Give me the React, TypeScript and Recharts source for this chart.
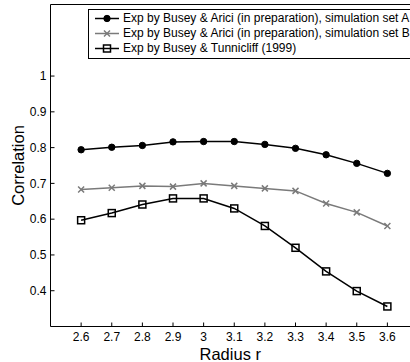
import { Legend, Line, LineChart, XAxis, YAxis } from 'recharts';

// radius values and correlations
const radius = [2.6, 2.7, 2.8, 2.9, 3.0, 3.1, 3.2, 3.3, 3.4, 3.5, 3.6];
const setA = [0.794, 0.801, 0.806, 0.816, 0.817, 0.817, 0.809, 0.798, 0.78, 0.756, 0.728];
const setB = [0.683, 0.688, 0.693, 0.691, 0.7, 0.693, 0.686, 0.679, 0.644, 0.619, 0.581];
const tunnicliff = [0.597, 0.617, 0.641, 0.658, 0.658, 0.63, 0.581, 0.52, 0.454, 0.399, 0.356];

const xTicks = [2.6, 2.7, 2.8, 2.9, 3, 3.1, 3.2, 3.3, 3.4, 3.5, 3.6];
const yTicks = [0.4, 0.5, 0.6, 0.7, 0.8, 0.9, 1];

const labelA = 'Exp by Busey & Arici (in preparation), simulation set A';
const labelB = 'Exp by Busey & Arici (in preparation), simulation set B';
const labelC = 'Exp by Busey & Tunnicliff (1999)';

const GRAY = '#7a7a7a';
const FONT = '"Liberation Sans", Arial, Helvetica, sans-serif';

const data = radius.map((r, i) => ({ r, a: setA[i], b: setB[i], c: tunnicliff[i] }));

const CircleDot = (props: any) => {
    const { cx, cy } = props;
    if (cx == null || cy == null) return null;
    return <circle cx={cx} cy={cy} r={3.2} fill="#000" stroke="#000" />;
};

const CrossDot = (props: any) => {
    const { cx, cy } = props;
    if (cx == null || cy == null) return null;
    const s = 3;
    return (
        <g stroke={GRAY} strokeWidth={1.5}>
            <line x1={cx - s} y1={cy - s} x2={cx + s} y2={cy + s} />
            <line x1={cx - s} y1={cy + s} x2={cx + s} y2={cy - s} />
        </g>
    );
};

const SquareDot = (props: any) => {
    const { cx, cy } = props;
    if (cx == null || cy == null) return null;
    const s = 3.5;
    return <rect x={cx - s} y={cy - s} width={s * 2} height={s * 2} fill="none" stroke="#000" strokeWidth={1.5} />;
};

const legendRows = [
    { label: labelA, color: '#000', Marker: CircleDot },
    { label: labelB, color: GRAY, Marker: CrossDot },
    { label: labelC, color: '#000', Marker: SquareDot },
];

const LegendBox = () => (
    <div
        style={{
            border: '1px solid #000',
            background: '#fff',
            width: 360,
            padding: '1px 0 2px 0',
            fontFamily: FONT,
            fontSize: 12,
            lineHeight: '15px',
        }}
    >
        {legendRows.map(({ label, color, Marker }) => (
            <div key={label} style={{ display: 'flex', alignItems: 'center', height: 15, whiteSpace: 'nowrap' }}>
                <svg width={34} height={15} style={{ flex: 'none' }}>
                    <line x1={6} y1={7.5} x2={30} y2={7.5} stroke={color} strokeWidth={1.5} />
                    <Marker cx={18} cy={7.5} />
                </svg>
                <span>{label}</span>
            </div>
        ))}
    </div>
);

export default function App() {
    return (
        <div style={{ position: 'absolute', left: 0, top: 0, width: 410, height: 362, background: '#fff', fontFamily: FONT }}>
            <LineChart width={410} height={362} data={data} margin={{ top: 0, right: -8, bottom: 0, left: 0 }}>
                <XAxis
                    dataKey="r"
                    type="number"
                    domain={[2.5, 3.7]}
                    ticks={xTicks}
                    height={35.5}
                    tickSize={-4}
                    tickMargin={10}
                    stroke="#000"
                    tick={{ fill: '#000', fontSize: 12 }}
                    label={{
                        content: (p: any) => {
                            const vb = p.viewBox;
                            return (
                                <text x={vb.x + vb.width / 2 - 4} y={360} textAnchor="middle" fontSize={16.5} fill="#000">
                                    Radius r
                                </text>
                            );
                        },
                    }}
                />
                <XAxis
                    xAxisId="top"
                    dataKey="r"
                    type="number"
                    orientation="top"
                    domain={[2.5, 3.7]}
                    ticks={xTicks}
                    height={4.5}
                    tickSize={-4}
                    tick={false}
                    stroke="#000"
                />
                <YAxis
                    type="number"
                    domain={[0.3, 1.2]}
                    ticks={yTicks}
                    width={50.5}
                    tickSize={-4}
                    tickMargin={8}
                    stroke="#000"
                    tick={{ fill: '#000', fontSize: 12 }}
                    label={{
                        content: (p: any) => {
                            const vb = p.viewBox;
                            const cy = vb.y + vb.height / 2;
                            return (
                                <text
                                    x={18}
                                    y={cy}
                                    transform={`rotate(-90 18 ${cy})`}
                                    textAnchor="middle"
                                    dominantBaseline="central"
                                    fontSize={16.5}
                                    fill="#000"
                                >
                                    Correlation
                                </text>
                            );
                        },
                    }}
                />
                <Legend
                    layout="vertical"
                    align="center"
                    verticalAlign="middle"
                    wrapperStyle={{ top: 9, left: 88, width: 360 }}
                    content={() => <LegendBox />}
                />
                <Line dataKey="a" stroke="#000" strokeWidth={1.5} dot={<CircleDot />} isAnimationActive={false} />
                <Line dataKey="b" stroke={GRAY} strokeWidth={1.5} dot={<CrossDot />} isAnimationActive={false} />
                <Line dataKey="c" stroke="#000" strokeWidth={1.5} dot={<SquareDot />} isAnimationActive={false} />
            </LineChart>
        </div>
    );
}
